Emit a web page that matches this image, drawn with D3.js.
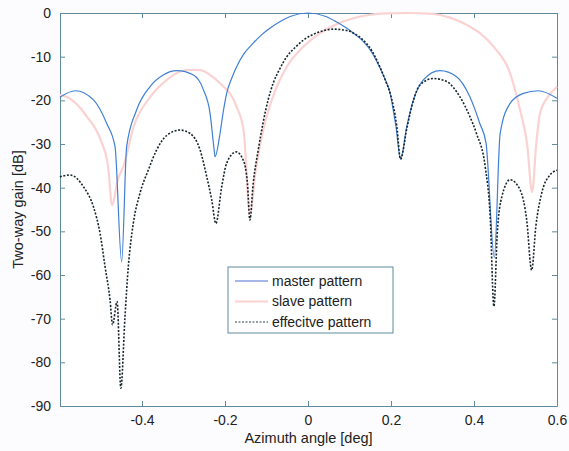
<!DOCTYPE html>
<html>
<head>
<meta charset="utf-8">
<script src="https://cdn.jsdelivr.net/npm/d3@7"></script>
<style>
  body { margin: 0; background: #fcfcfe; }
  text { font-family: "Liberation Sans", Arial, sans-serif; fill: #222; }
</style>
</head>
<body>
<div id="chart"></div>
<script>
// values: angle [deg] and two-way gain [dB]
var masterX = [-0.598, -0.561, -0.517, -0.485, -0.465, -0.449, -0.437, -0.413, -0.381, -0.349, -0.316, -0.276, -0.252, -0.236, -0.227, -0.224,
  -0.212, -0.204, -0.196, -0.184, -0.172, -0.155, -0.132, -0.112, -0.092, -0.068, -0.043, 0, 0.043, 0.068, 0.092, 0.112, 0.133, 0.155, 0.172, 0.185, 0.198, 0.205, 0.212, 0.223,
  0.238, 0.254, 0.278, 0.318, 0.358, 0.39, 0.414, 0.429, 0.449, 0.463, 0.487, 0.519, 0.555, 0.6];
var masterDb = [-19.3, -17.8, -19.9, -25.3, -30.6, -57, -30.6, -22.2, -16.9, -14.2, -13.2, -14.2, -17.6, -23, -30.6, -32.9,
  -27.6, -22.5, -18.4, -15, -12.3, -9.4, -6.9, -5, -3.5, -2, -0.8, 0, -0.8, -2, -3.4, -4.8, -6.5, -9.2, -12.3, -15, -18.4, -22, -26, -33.4,
  -26, -19.9, -15.3, -13.2, -14.6, -19.2, -25.3, -29.8, -56, -27.6, -20.7, -18.4, -17.8, -19.5];

var slaveX = [-0.598, -0.582, -0.533, -0.5, -0.482, -0.472, -0.458, -0.445, -0.42, -0.38, -0.34, -0.308, -0.29, -0.26, -0.236, -0.212, -0.172, -0.155, -0.14,
  -0.126, -0.108, -0.08, -0.051, -0.01, 0.029, 0.07, 0.109, 0.15, 0.19, 0.24, 0.3, 0.34, 0.382, 0.447, 0.487, 0.511, 0.528, 0.54,
  0.55, 0.559, 0.58, 0.6];
var slaveDb = [-18.8, -19.2, -23.7, -29, -35, -44, -38, -35.2, -26, -19.2, -15.3, -13.4, -13, -13.1, -14.2, -16.1, -21.5, -27, -46,
  -36, -26.8, -18, -12.3, -7.6, -4.6, -2.5, -1.2, -0.4, -0.1, 0, -0.2, -1, -2.7, -7.7, -13.8, -22.2, -30, -41,
  -30, -23, -19, -16.9];

var effX = [-0.598, -0.573, -0.541, -0.517, -0.501, -0.489, -0.477, -0.471, -0.46, -0.451, -0.441, -0.433, -0.421, -0.405, -0.385, -0.365,
  -0.34, -0.308, -0.284, -0.26, -0.244, -0.232, -0.222, -0.208, -0.196, -0.173, -0.156, -0.146, -0.14,
  -0.132, -0.12, -0.108, -0.096, -0.084, -0.068, -0.051, -0.03, -0.011, 0.029, 0.061, 0.093, 0.115, 0.133, 0.155, 0.173, 0.188, 0.198, 0.214, 0.223,
  0.238, 0.254, 0.27, 0.302, 0.334, 0.366, 0.39, 0.406, 0.427, 0.439, 0.448, 0.456, 0.467, 0.487, 0.511, 0.527, 0.539,
  0.549, 0.563, 0.583, 0.6];
var effDb = [-37.5, -37.1, -39.8, -44.4, -50.5, -58.1, -65.7, -71.4, -66.1, -85.9, -69.5, -58.1, -48.2, -41.3, -36, -31.4,
  -28, -26.8, -27.6, -31.4, -37.5, -42.8, -48.2, -39.8, -34.4, -31.8, -33.7, -39, -47.4,
  -39, -31.4, -25, -19.9, -16.1, -12.8, -10, -7.8, -6.2, -4.3, -3.7, -4, -4.9, -6.2, -8.8, -12.3, -15.8, -18.4, -26, -33.5,
  -26.5, -20, -16.5, -15, -15.7, -19.2, -23.7, -27.6, -35.2, -46.6, -67.2, -50.5, -42.1, -38.2, -40.5, -47.4, -58.9,
  -48.9, -41.3, -37.1, -36];

var xTicks = [-0.4, -0.2, 0, 0.2, 0.4, 0.6];
var yTicks = [0, -10, -20, -30, -40, -50, -60, -70, -80, -90];
var seriesNames = ['master pattern', 'slave pattern', 'effecitve pattern'];

var chart_width = 569, chart_height = 451;
var plot_left = 60, plot_right = 557, plot_top = 13, plot_bottom = 406;

var svg = d3.select('#chart')
  .append('svg')
  .attr('width', chart_width)
  .attr('height', chart_height);

svg.append('rect').attr('width', chart_width).attr('height', chart_height).attr('fill', '#fcfcfe');

var x_scale = d3.scaleLinear().domain([-0.5976, 0.6]).range([plot_left, plot_right]);
var y_scale = d3.scaleLinear().domain([-90, 0]).range([plot_bottom, plot_top]);

svg.append('rect')
  .attr('x', plot_left).attr('y', plot_top)
  .attr('width', plot_right - plot_left).attr('height', plot_bottom - plot_top)
  .attr('fill', '#ffffff');

// plain hyphen minus, like the original
var fmt = (d) => String(d);

// axes with inward ticks on all four sides
var axisColor = '#5f8c9c';
function styleAxis(g) {
  g.select('.domain').attr('stroke', axisColor);
  g.selectAll('.tick line').attr('stroke', axisColor);
  g.selectAll('.tick text').style('font-size', '14px').attr('fill', '#222');
}
svg.append('g').attr('transform', 'translate(0,' + plot_bottom + ')')
  .call(d3.axisBottom(x_scale).tickValues(xTicks).tickSize(-5).tickPadding(9).tickFormat(fmt).tickSizeOuter(0))
  .call(styleAxis);
svg.append('g').attr('transform', 'translate(0,' + plot_top + ')')
  .call(d3.axisTop(x_scale).tickValues(xTicks).tickSize(-5).tickFormat('').tickSizeOuter(0))
  .call(styleAxis);
svg.append('g').attr('transform', 'translate(' + plot_left + ',0)')
  .call(d3.axisLeft(y_scale).tickValues(yTicks).tickSize(-5).tickPadding(9).tickFormat(fmt).tickSizeOuter(0))
  .call(styleAxis);
svg.append('g').attr('transform', 'translate(' + plot_right + ',0)')
  .call(d3.axisRight(y_scale).tickValues(yTicks).tickSize(-5).tickFormat('').tickSizeOuter(0))
  .call(styleAxis);

// curves
var line = d3.line()
  .x((d) => x_scale(d[0]))
  .y((d) => y_scale(d[1]))
  .curve(d3.curveMonotoneX);

function zip(xs, ys) { return xs.map((v, i) => [v, ys[i]]); }

var plot = svg.append('g');
plot.append('path')
  .attr('d', line(zip(slaveX, slaveDb)))
  .attr('fill', 'none').attr('stroke', '#fbd2d2').attr('stroke-width', 2.2);
plot.append('path')
  .attr('d', line(zip(masterX, masterDb)))
  .attr('fill', 'none').attr('stroke', '#3f7fd6').attr('stroke-width', 1.2);
plot.append('path')
  .attr('d', line(zip(effX, effDb)))
  .attr('fill', 'none').attr('stroke', '#17262c').attr('stroke-width', 1.6)
  .attr('stroke-dasharray', '2,1.6');

// legend
var lg = svg.append('g');
lg.append('rect')
  .attr('x', 228).attr('y', 267).attr('width', 165).attr('height', 66)
  .attr('fill', '#ffffff').attr('stroke', axisColor).attr('stroke-width', 1);
var legendStyles = [
  { stroke: '#8a9fe0', width: 1.3, dash: null },
  { stroke: '#fbd2d2', width: 2, dash: null },
  { stroke: '#29414a', width: 1, dash: '2,1.5' }
];
seriesNames.forEach(function(name, i) {
  var yy = 281 + i * 20.5;
  lg.append('line')
    .attr('x1', 235).attr('x2', 268).attr('y1', yy).attr('y2', yy)
    .attr('stroke', legendStyles[i].stroke).attr('stroke-width', legendStyles[i].width)
    .attr('stroke-dasharray', legendStyles[i].dash);
  lg.append('text')
    .attr('x', 272).attr('y', yy).attr('dy', '0.35em')
    .style('font-size', '14px')
    .text(name);
});

// axis titles
svg.append('text')
  .attr('x', (plot_left + plot_right) / 2).attr('y', 443)
  .attr('text-anchor', 'middle')
  .style('font-size', '14.5px')
  .text('Azimuth angle [deg]');
svg.append('text')
  .attr('transform', 'translate(23,' + ((plot_top + plot_bottom) / 2) + ') rotate(-90)')
  .attr('text-anchor', 'middle')
  .style('font-size', '14.5px')
  .text('Two-way gain [dB]');
</script>
</body>
</html>
